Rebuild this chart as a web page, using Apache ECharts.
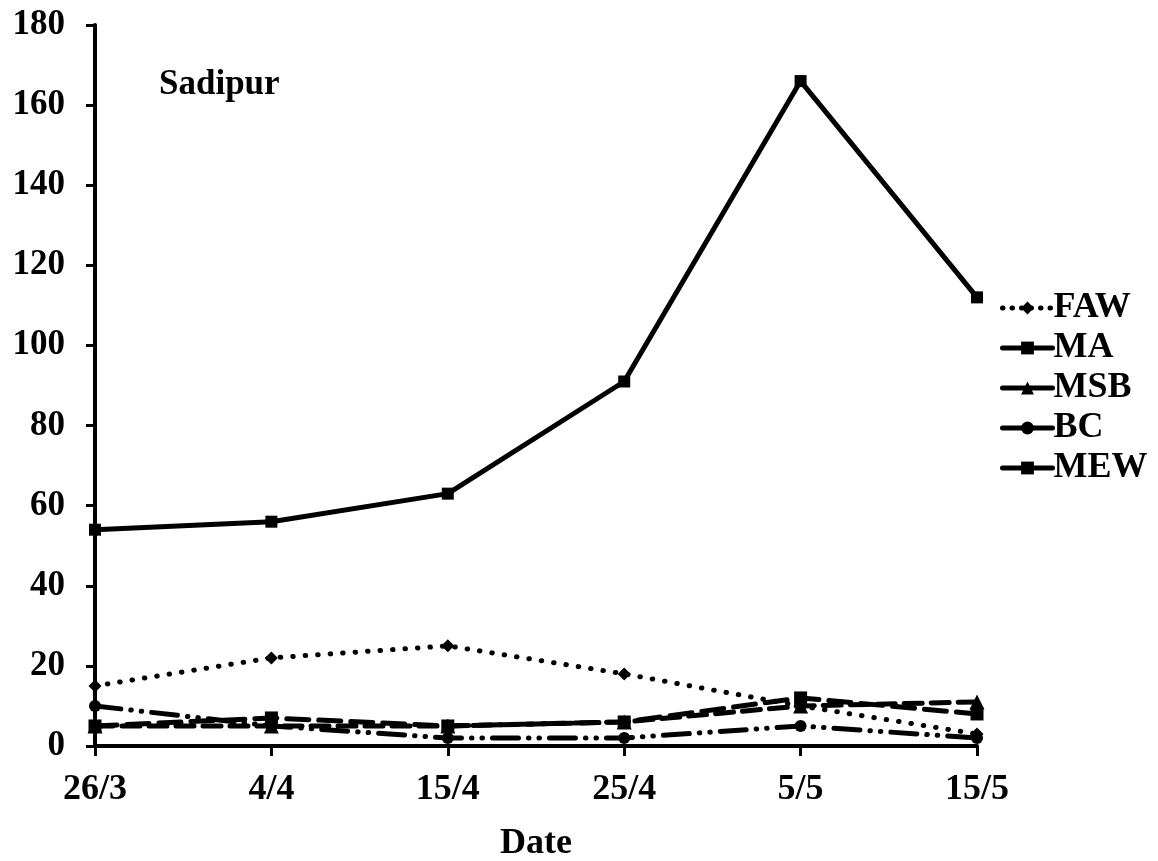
<!DOCTYPE html>
<html>
<head>
<meta charset="utf-8">
<script src="https://cdn.jsdelivr.net/npm/echarts@6/dist/echarts.min.js"></script>
<style>
  html, body { margin: 0; padding: 0; background: #fff; }
  #chart { width: 1158px; height: 861px; }
</style>
</head>
<body>
<div id="chart"></div>
<script>
// Sampling dates and pest counts at Sadipur
const dates = ['26/3', '4/4', '15/4', '25/4', '5/5', '15/5'];
const FAW = [15, 22, 25, 18, 10, 3];
const MA  = [54, 56, 63, 91, 166, 112];
const MSB = [5, 5, 5, 6, 10, 11];
const BC  = [10, 5, 2, 2, 5, 2];
const MEW = [5, 7, 5, 6, 12, 8];
const yTicks = { min: 0, max: 180, interval: 20 };

const FONT = '"Liberation Serif", "Times New Roman", serif';
const TXT = { fontFamily: FONT, fontWeight: 'bold', fontSize: 35, color: '#000' };

function line(name, data, symbol, size, width, dash) {
  return {
    name, type: 'line', data,
    symbol, symbolSize: size,
    itemStyle: { color: '#000' },
    lineStyle: { color: '#000', width, type: dash, cap: 'round' },
    emphasis: { disabled: true },
    animation: false
  };
}

function legendItem(name, dash) {
  return { name, lineStyle: { type: dash, width: 5, cap: 'round' } };
}

const chart = echarts.init(document.getElementById('chart'));
chart.setOption({
  backgroundColor: '#fff',
  grid: { left: 95, right: 181, top: 25, bottom: 115, outerBoundsMode: 'none', containLabel: false },
  title: {
    text: 'Sadipur', left: 154, top: 62,
    textStyle: Object.assign({}, TXT, { fontSize: 35 })
  },
  legend: {
    orient: 'vertical', left: 995, top: 285,
    itemWidth: 50, itemHeight: 16, itemGap: 4,
    textStyle: Object.assign({}, TXT, { fontSize: 36, padding: [0, 0, 0, -4] }),
    data: [
      legendItem('FAW', [0.5, 9]),
      legendItem('MA', 'solid'),
      legendItem('MSB', 'solid'),
      legendItem('BC', 'solid'),
      legendItem('MEW', 'solid')
    ]
  },
  xAxis: {
    type: 'category', data: dates, boundaryGap: false,
    name: 'Date', nameLocation: 'middle', nameGap: 80,
    nameTextStyle: Object.assign({}, TXT, { fontSize: 36 }),
    axisLine: { lineStyle: { color: '#000', width: 4 } },
    axisTick: { alignWithLabel: true, length: 10, lineStyle: { color: '#000', width: 3 } },
    axisLabel: Object.assign({}, TXT, { fontSize: 36, margin: 26 }),
    splitLine: { show: false }
  },
  yAxis: {
    type: 'value', min: yTicks.min, max: yTicks.max, interval: yTicks.interval,
    axisLine: { show: true, lineStyle: { color: '#000', width: 4 } },
    axisTick: { show: true, length: 9, lineStyle: { color: '#000', width: 3 } },
    axisLabel: Object.assign({}, TXT, { margin: 30 }),
    splitLine: { show: false }
  },
  series: [
    line('FAW', FAW, 'diamond', 13, 5, [0.5, 12]),
    line('MA', MA, 'rect', 12, 5, 'solid'),
    line('MSB', MSB, 'triangle', 15, 5, [18, 9]),
    line('BC', BC, 'circle', 12, 5, [26, 10, 0.5, 10, 0.5, 10]),
    line('MEW', MEW, 'rect', 13, 5, [22, 10])
  ]
});
</script>
</body>
</html>
